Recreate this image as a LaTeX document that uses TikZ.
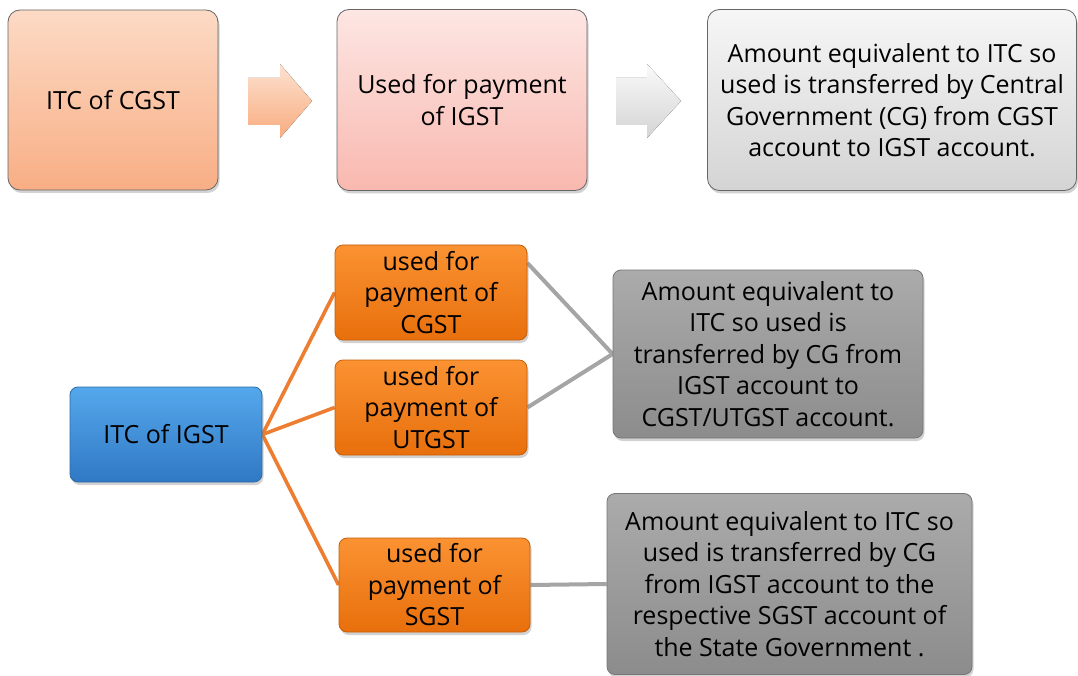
\documentclass[tikz,border=0pt]{standalone}
\usepackage{fontspec}
\setmainfont{Open Sans}
\usetikzlibrary{shadows,backgrounds,calc}
\definecolor{pchTop}{HTML}{FCDAC5}
\definecolor{pchBot}{HTML}{F8AE85}
\definecolor{pnkTop}{HTML}{FDE6E3}
\definecolor{pnkBot}{HTML}{F8B8AF}
\definecolor{lgTop}{HTML}{F6F6F6}
\definecolor{lgBot}{HTML}{D4D4D4}
\definecolor{bluTop}{HTML}{55A8EC}
\definecolor{bluBot}{HTML}{3078C4}
\definecolor{bluEdge}{HTML}{2C6AA6}
\definecolor{orTop}{HTML}{FB9232}
\definecolor{orBot}{HTML}{E86F0C}
\definecolor{orEdge}{HTML}{C55F0A}
\definecolor{gyTop}{HTML}{ABABAB}
\definecolor{gyBot}{HTML}{8C8C8C}
\definecolor{gyEdge}{HTML}{767676}
\definecolor{orLine}{HTML}{ED7D31}
\definecolor{gyLine}{HTML}{A5A5A5}
\tikzset{
  txt/.style={font=\fontsize{25}{31.5}\selectfont, align=center, inner sep=0pt, text=black},
  shad/.style={drop shadow={opacity=0.35, shadow xshift=1.5pt, shadow yshift=-3pt}},
  topbox/.style={txt, shad, rounded corners=12pt, draw=black!60, line width=0.8pt},
  lowbox/.style={txt, shad, rounded corners=8pt, line width=0.8pt},
  bluebox/.style={lowbox, draw=bluEdge, top color=bluTop, bottom color=bluBot},
  orbox/.style={lowbox, draw=orEdge, top color=orTop, bottom color=orBot},
  gybox/.style={lowbox, draw=gyEdge, top color=gyTop, bottom color=gyBot},
  orconn/.style={draw=orLine, line width=3.6pt},
  gyconn/.style={draw=gyLine, line width=4pt},
  blockarrow/.style={draw=none}
}
\begin{document}
\begin{tikzpicture}[x=1pt,y=-1pt]
\useasboundingbox (0,0) rectangle (1078,676);

\node[topbox, top color=pchTop, bottom color=pchBot, minimum width=210pt, minimum height=180pt] (b1) at (113,100) {ITC of CGST};
\node[topbox, top color=pnkTop, bottom color=pnkBot, minimum width=250pt, minimum height=181pt] (b2) at (462,100) {Used for payment\\of IGST};
\node[topbox, top color=lgTop, bottom color=lgBot, minimum width=369pt, minimum height=181pt] (b3) at (892,100) {Amount equivalent to ITC so\\used is transferred by Central\\Government (CG) from CGST\\account to IGST account.};

\fill[blockarrow, top color=pchTop!80!white, bottom color=pchBot!95!orange] (248,78) -- (280,78) -- (280,64) -- (312,101) -- (280,138) -- (280,125) -- (248,125) -- cycle;
\fill[blockarrow, top color=lgTop!60!white, bottom color=lgBot] (616,78) -- (647,78) -- (647,64) -- (681,101) -- (647,138) -- (647,125) -- (616,125) -- cycle;

\node[bluebox, minimum width=192pt, minimum height=95pt] (itc) at (166,434.5) {ITC of IGST};
\node[orbox, minimum width=192pt, minimum height=95pt] (o1) at (431,292.5) {used for\\payment of\\CGST};
\node[orbox, minimum width=192pt, minimum height=95pt] (o2) at (431,407.5) {used for\\payment of\\UTGST};
\node[orbox, minimum width=191pt, minimum height=94pt] (o3) at (434.5,585) {used for\\payment of\\SGST};
\node[gybox, minimum width=310pt, minimum height=168pt] (g1) at (768,354) {Amount equivalent to\\ITC so used is\\transferred by CG from\\IGST account to\\CGST/UTGST account.};
\node[gybox, minimum width=365pt, minimum height=181pt] (g2) at (789.5,584) {Amount equivalent to ITC so\\used is transferred by CG\\from IGST account to the\\respective SGST account of\\the State Government .};

\begin{scope}[on background layer]
\fill[white] (0,0) rectangle (1078,676);
\draw[orconn] (itc.east) -- (o1.west);
\draw[orconn] (itc.east) -- (o2.west);
\draw[orconn] (itc.east) -- (o3.west);
\draw[gyconn] ([yshift=29.5pt]o1.east) -- (g1.west);
\draw[gyconn] (o2.east) -- (g1.west);
\draw[gyconn] (o3.east) -- (g2.west);
\end{scope}
\end{tikzpicture}
\end{document}
